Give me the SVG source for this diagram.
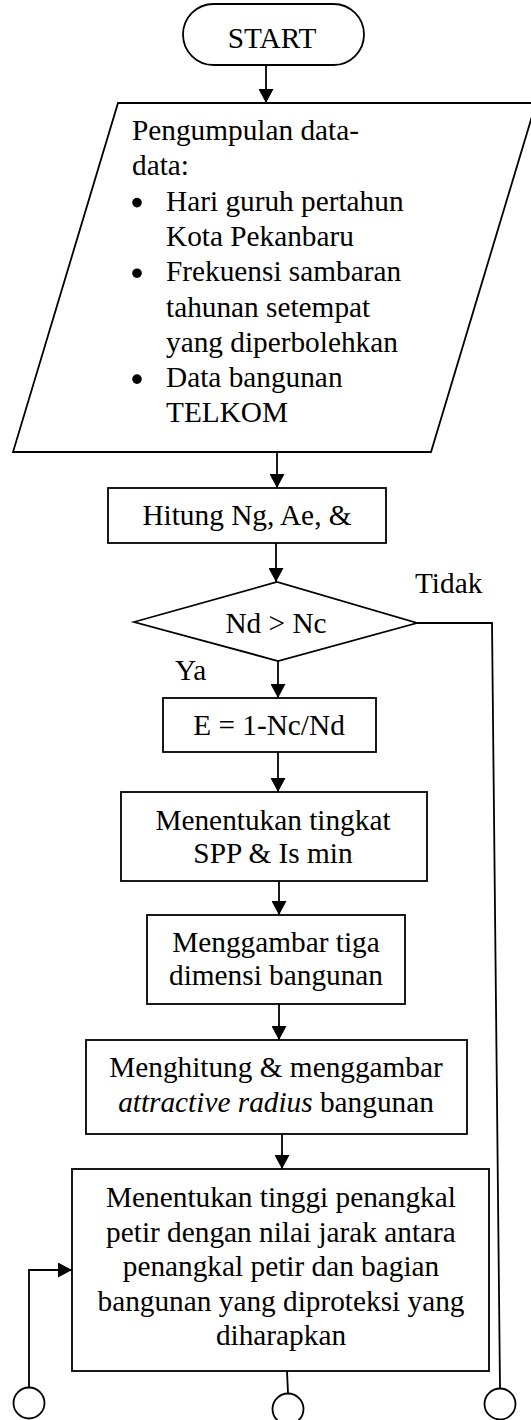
<svg xmlns="http://www.w3.org/2000/svg" width="531" height="1420" viewBox="0 0 531 1420">
<defs>
<marker id="arr" markerUnits="userSpaceOnUse" markerWidth="15" markerHeight="15" refX="14" refY="7.5" orient="auto">
<path d="M0,0 L14,7.5 L0,15 z" fill="#000"/>
</marker>
<style>
.s{fill:#fff;stroke:#000;stroke-width:1.8}
.c{fill:none;stroke:#000;stroke-width:1.8}
.t{font-family:"Liberation Serif","Times New Roman",serif;font-size:29.3px;fill:#000}
.m{text-anchor:middle}
</style>
</defs>
<rect width="531" height="1420" fill="#fff"/>
<g id="connectors">
<line class="c" x1="266" y1="65" x2="266" y2="103" marker-end="url(#arr)"/>
<line class="c" x1="277" y1="452" x2="277" y2="488" marker-end="url(#arr)"/>
<line class="c" x1="276" y1="543" x2="276" y2="582" marker-end="url(#arr)"/>
<line class="c" x1="278" y1="661" x2="278" y2="698" marker-end="url(#arr)"/>
<line class="c" x1="278" y1="752" x2="278" y2="792" marker-end="url(#arr)"/>
<line class="c" x1="279" y1="881" x2="279" y2="915" marker-end="url(#arr)"/>
<line class="c" x1="279" y1="1004" x2="279" y2="1040" marker-end="url(#arr)"/>
<line class="c" x1="282" y1="1134" x2="282" y2="1169" marker-end="url(#arr)"/>
<polyline class="c" points="417,623 492,623 500,1388"/>
<line class="c" x1="287" y1="1371" x2="288" y2="1393"/>
<polyline class="c" points="29,1387 29,1270 72,1270" marker-end="url(#arr)"/>
<text class="t" x="415" y="593">Tidak</text>
<text class="t" x="175" y="680">Ya</text>
</g>
<g id="start">
<rect class="s" x="183" y="4" width="181" height="61" rx="30.5"/>
<text class="t m" x="272" y="48">START</text>
</g>
<g id="input">
<polygon class="s" points="118,103 536,103 431,452 13,452"/>
<text class="t" x="132" y="140">Pengumpulan data-</text>
<text class="t" x="132" y="175.3">data:</text>
<circle cx="137" cy="202.6" r="4.8" fill="#000"/>
<text class="t" x="166" y="210.6">Hari guruh pertahun</text>
<text class="t" x="166" y="245.9">Kota Pekanbaru</text>
<circle cx="137" cy="273.2" r="4.8" fill="#000"/>
<text class="t" x="166" y="281.2">Frekuensi sambaran</text>
<text class="t" x="166" y="316.5">tahunan setempat</text>
<text class="t" x="166" y="351.8">yang diperbolehkan</text>
<circle cx="137" cy="379.1" r="4.8" fill="#000"/>
<text class="t" x="166" y="387.1">Data bangunan</text>
<text class="t" x="166" y="422.4">TELKOM</text>
</g>
<g id="hitung">
<rect class="s" x="108" y="488" width="278" height="55"/>
<text class="t m" x="247" y="525">Hitung Ng, Ae, &amp;</text>
</g>
<g id="decision">
<polygon class="s" points="134,622 277,582 417,623 278,661"/>
<text class="t m" x="276" y="633">Nd &gt; Nc</text>
</g>
<g id="efisiensi">
<rect class="s" x="163" y="698" width="213" height="54"/>
<text class="t m" x="269" y="735">E = 1-Nc/Nd</text>
</g>
<g id="tingkat">
<rect class="s" x="121" y="792" width="306" height="89"/>
<text class="t m" x="273" y="830">Menentukan tingkat</text>
<text class="t m" x="273" y="863">SPP &amp; Is min</text>
</g>
<g id="gambar3d">
<rect class="s" x="147" y="915" width="258" height="89"/>
<text class="t m" x="276" y="952">Menggambar tiga</text>
<text class="t m" x="276" y="985">dimensi bangunan</text>
</g>
<g id="radius">
<rect class="s" x="86" y="1040" width="381" height="94"/>
<text class="t m" x="276" y="1077">Menghitung &amp; menggambar</text>
<text class="t m" x="276" y="1112"><tspan font-style="italic">attractive radius</tspan> bangunan</text>
</g>
<g id="tinggi">
<rect class="s" x="72" y="1169" width="417" height="202"/>
<text class="t m" x="281" y="1207">Menentukan tinggi penangkal</text>
<text class="t m" x="281" y="1242">petir dengan nilai jarak antara</text>
<text class="t m" x="281" y="1276">penangkal petir dan bagian</text>
<text class="t m" x="281" y="1311">bangunan yang diproteksi yang</text>
<text class="t m" x="281" y="1345">diharapkan</text>
</g>
<g id="conn-left"><circle class="s" cx="29" cy="1403" r="15.5"/></g>
<g id="conn-mid"><circle class="s" cx="288" cy="1409" r="15.5"/></g>
<g id="conn-right"><circle class="s" cx="500" cy="1404" r="15.5"/></g>
</svg>
